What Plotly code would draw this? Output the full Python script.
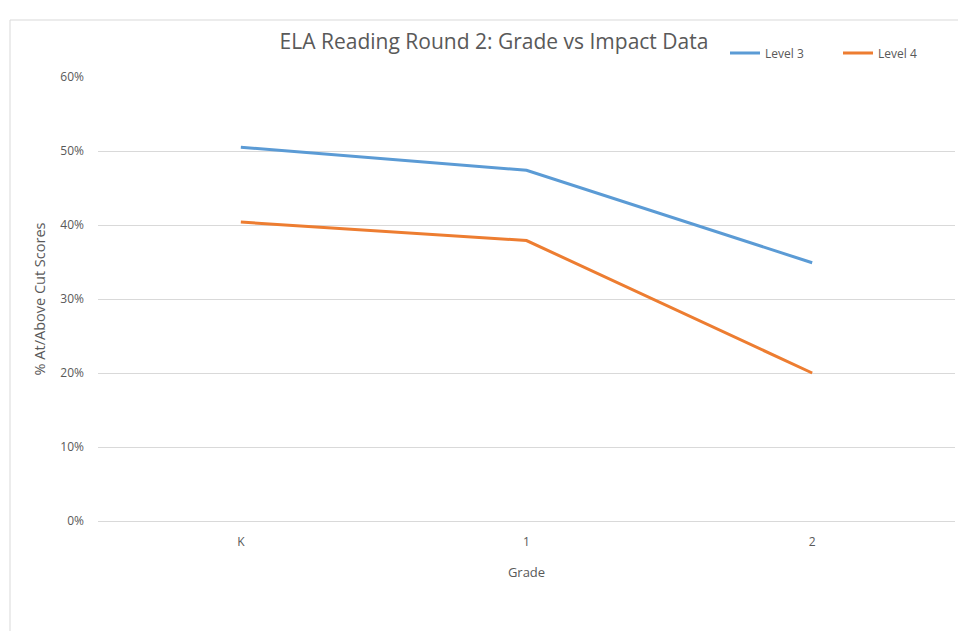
import plotly.graph_objects as go

grades = ["K", "1", "2"]
level3 = [0.505, 0.474, 0.349]
level4 = [0.404, 0.379, 0.200]
series_names = ["Level 3", "Level 4"]
colors = ["#5B9BD5", "#ED7D31"]

W, H = 958, 632
L, R, T, B = 98, 3, 77, 111
pw = W - L - R
ph = H - T - B

fig = go.Figure()
for name, vals, c in zip(series_names, [level3, level4], colors):
    fig.add_trace(go.Scatter(x=grades, y=vals, mode="lines", name=name,
                             line=dict(color=c, width=3)))

font_fam = "Open Sans, Liberation Sans, sans-serif"
gray = "#595959"

fig.update_layout(
    width=W, height=H,
    margin=dict(l=L, r=R, t=T, b=B, autoexpand=False),
    paper_bgcolor="white", plot_bgcolor="white",
    font=dict(family=font_fam, color=gray, size=12),
    title=dict(text="ELA Reading Round 2: Grade vs Impact Data",
               x=494 / W, xref="container", xanchor="center",
               y=1 - 42 / H, yref="container", yanchor="middle",
               font=dict(size=21, color=gray, family=font_fam)),
    legend=dict(orientation="h", x=(725 - L) / pw, xanchor="left",
                y=(H - B - 53) / ph, yanchor="middle",
                font=dict(size=12, color=gray), bgcolor="rgba(0,0,0,0)",
                entrywidth=68, entrywidthmode="pixels",
                itemwidth=30, tracegroupgap=0),
    xaxis=dict(type="category", range=[-0.5, 2.5], showgrid=False,
               showline=False, ticks="", ticklen=0, automargin=False,
               ticklabelstandoff=12,
               tickfont=dict(size=12, color=gray),
               title=dict(text="Grade", font=dict(size=13, color=gray), standoff=18),
               zeroline=False),
    yaxis=dict(range=[0, 0.6], dtick=0.1, tickformat=".0%", automargin=False,
               showgrid=True, gridcolor="#d9d9d9", gridwidth=1,
               zeroline=True, zerolinecolor="#d9d9d9", zerolinewidth=1,
               showline=False, ticks="", ticklabelstandoff=13,
               tickfont=dict(size=12, color=gray),
               title=dict(text="% At/Above Cut Scores", font=dict(size=14.5, color=gray), standoff=11)),
    showlegend=True,
)

# outer chart border (left and top edges visible)
bx = (10 - L) / pw
by = (H - B - 20) / ph
fig.add_shape(type="line", xref="paper", yref="paper",
              x0=bx, x1=bx, y0=(H - B - (H - 1)) / ph, y1=by,
              line=dict(color="#d9d9d9", width=1))
fig.add_shape(type="line", xref="paper", yref="paper",
              x0=bx, x1=(W - L) / pw, y0=by, y1=by,
              line=dict(color="#d9d9d9", width=1))

fig.write_html("out.html", config={"displayModeBar": False},
               post_script="document.body.style.margin='0';document.body.style.overflow='hidden';")
